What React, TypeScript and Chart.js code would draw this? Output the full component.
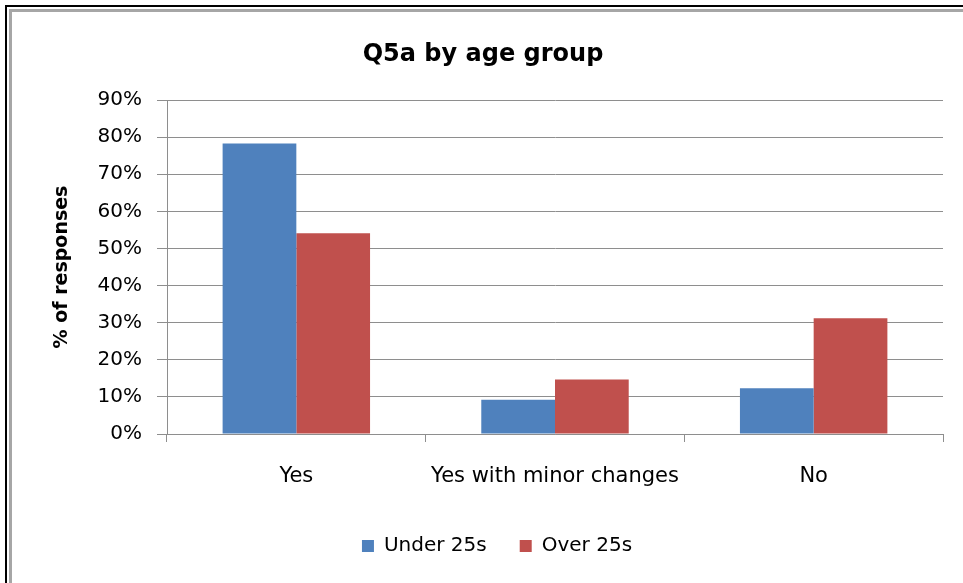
import React, { useEffect, useRef } from "react";
import { Chart, registerables } from "chart.js";

Chart.register(...registerables);

const categories = ["Yes", "Yes with minor changes", "No"];
const under25s = [78.3, 9.2, 12.3];
const over25s = [54.1, 14.7, 31.2];
const seriesNames = ["Under 25s", "Over 25s"];
const yTicksMax = 90;
const chartTitle = "Q5a by age group";
const yTitle = "% of responses";

const FONT = "'DejaVu Sans', sans-serif";

export default function App() {
  const ref = useRef<HTMLCanvasElement | null>(null);

  useEffect(() => {
    document.body.style.margin = "0";
    const canvas = ref.current;
    if (!canvas) return;

    const titlePlugin = {
      id: "customTitle",
      afterDraw(chart: any) {
        const ctx = chart.ctx;
        ctx.save();
        ctx.font = `bold 24px ${FONT}`;
        ctx.fillStyle = "#000";
        ctx.textAlign = "center";
        ctx.textBaseline = "alphabetic";
        ctx.fillText(chartTitle, 483, 61);
        ctx.restore();
      },
    };

    const chart = new Chart(canvas, {
      type: "bar",
      data: {
        labels: categories,
        datasets: [
          {
            label: seriesNames[0],
            data: under25s,
            backgroundColor: "#4F81BD",
            borderWidth: 0,
            categoryPercentage: 0.57,
            barPercentage: 1.0,
          },
          {
            label: seriesNames[1],
            data: over25s,
            backgroundColor: "#C0504D",
            borderWidth: 0,
            categoryPercentage: 0.57,
            barPercentage: 1.0,
          },
        ],
      },
      options: {
        responsive: false,
        animation: false,
        devicePixelRatio: 1,
        layout: { padding: { left: 51, right: 20, top: 100, bottom: 17 } },
        plugins: {
          title: { display: false },
          tooltip: { enabled: false },
          legend: {
            position: "bottom",
            labels: {
              font: { family: FONT, size: 20 },
              color: "#000",
              boxWidth: 12,
              boxHeight: 12,
              padding: 33,
            },
          },
        },
        scales: {
          x: {
            grid: {
              display: true,
              drawOnChartArea: false,
              drawTicks: true,
              tickLength: 8,
              color: "#8E8E8E",
              offset: true,
            },
            border: { display: true, color: "#8E8E8E" },
            ticks: {
              font: { family: FONT, size: 21 },
              color: "#000",
              padding: 22,
              maxRotation: 0,
            },
            afterFit(scale: any) {
              scale.height = 69;
            },
          },
          y: {
            min: 0,
            max: yTicksMax,
            grid: {
              color: "#8E8E8E",
              drawTicks: true,
              tickLength: 10,
            },
            border: { display: true, color: "#8E8E8E" },
            ticks: {
              stepSize: 10,
              font: { family: FONT, size: 20 },
              color: "#000",
              padding: 15,
              callback: (v: any) => `${v}%`,
            },
            title: {
              display: true,
              text: yTitle,
              font: { family: FONT, size: 19, weight: "bold" },
              color: "#000",
              padding: { top: 0, bottom: 0 },
            },
            afterFit(scale: any) {
              scale.width = 116;
            },
          },
        },
      },
      plugins: [titlePlugin],
    });

    return () => chart.destroy();
  }, []);

  return (
    <div
      style={{
        position: "fixed",
        left: 0,
        top: 0,
        width: 963,
        height: 583,
        overflow: "hidden",
        background: "#fff",
      }}
    >
      <canvas
        ref={ref}
        width={963}
        height={583}
        style={{ position: "absolute", left: 0, top: 0, width: 963, height: 583 }}
      />
      <div
        style={{
          position: "absolute",
          left: 5,
          top: 5,
          width: 1200,
          height: 1200,
          borderTop: "2px solid #000",
          borderLeft: "2px solid #000",
          pointerEvents: "none",
        }}
      />
      <div
        style={{
          position: "absolute",
          left: 9,
          top: 9,
          width: 1200,
          height: 1200,
          borderTop: "3px solid #A6A6A6",
          borderLeft: "3px solid #A6A6A6",
          pointerEvents: "none",
        }}
      />
    </div>
  );
}
